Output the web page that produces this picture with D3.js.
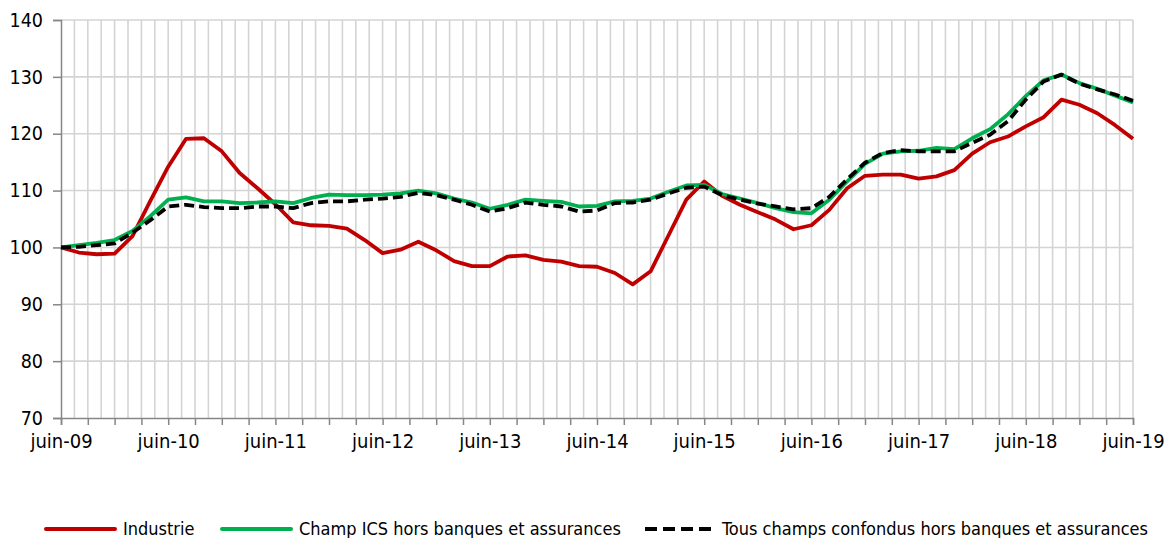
<!DOCTYPE html>
<html><head><meta charset="utf-8">
<script src="https://cdn.jsdelivr.net/npm/d3@7"></script>
<style>
html,body{margin:0;padding:0;background:#fff;}
svg text{font-family:"DejaVu Sans Condensed","DejaVu Sans",sans-serif;font-stretch:condensed;fill:#000;}
</style></head>
<body><svg id="chart" width="1169" height="538"></svg>
<script>
const xLabels = ["juin-09","juin-10","juin-11","juin-12","juin-13","juin-14","juin-15","juin-16","juin-17","juin-18","juin-19"];
const yTicks = [70,80,90,100,110,120,130,140];
const seriesNames = ["Industrie","Champ ICS hors banques et assurances","Tous champs confondus hors banques et assurances"];
const industrie = [100,99.1,98.8,98.9,102.0,108.2,114.2,119.1,119.2,116.9,113.1,110.4,107.6,104.4,103.9,103.8,103.3,101.3,99.0,99.6,101.0,99.5,97.6,96.7,96.7,98.4,98.6,97.8,97.5,96.7,96.6,95.5,93.5,95.8,102.1,108.4,111.6,109.1,107.5,106.2,104.9,103.2,103.9,106.6,110.4,112.6,112.8,112.8,112.1,112.5,113.6,116.5,118.5,119.5,121.3,122.9,126.0,125.1,123.6,121.5,119.1];
const champICS = [100,100.4,100.8,101.3,102.9,105.5,108.4,108.8,108.1,108.1,107.8,107.9,108.1,107.8,108.7,109.3,109.2,109.2,109.3,109.5,110.0,109.5,108.6,107.9,106.8,107.5,108.4,108.2,108.0,107.2,107.3,108.1,108.2,108.6,109.8,110.9,111.0,109.4,108.6,107.8,106.9,106.2,106.0,108.4,111.6,114.7,116.5,116.9,117.0,117.5,117.3,119.2,120.8,123.4,126.6,129.4,130.4,128.9,127.9,126.7,125.5];
const tousChamps = [100,100.1,100.4,100.7,102.6,104.8,107.2,107.5,107.1,106.9,106.9,107.2,107.2,106.9,107.8,108.1,108.1,108.4,108.6,108.9,109.6,109.2,108.4,107.5,106.3,106.9,107.9,107.5,107.2,106.3,106.5,107.8,107.9,108.4,109.5,110.5,110.7,109.2,108.4,107.7,107.2,106.7,106.9,108.9,112.0,114.9,116.6,117.1,116.9,116.9,116.9,118.4,119.8,122.2,126.0,129.2,130.4,128.8,127.8,126.9,125.8];

const svg = d3.select("#chart");
const L = 61, R = 1133, T = 20, B = 418;
const x = d3.scaleLinear().domain([0,120]).range([L,R]);
const y = d3.scaleLinear().domain([70,140]).range([B,T]);

const vg = d3.range(1.5,120.01,1.5);
svg.append("g").selectAll("line").data(vg).join("line")
  .attr("x1",d=>x(d)).attr("x2",d=>x(d)).attr("y1",T).attr("y2",B)
  .attr("stroke","#d4d4d4").attr("stroke-width",1.6);
svg.append("g").selectAll("line").data(yTicks.filter(v=>v>70)).join("line")
  .attr("x1",L).attr("x2",R).attr("y1",d=>y(d)).attr("y2",d=>y(d))
  .attr("stroke","#d4d4d4").attr("stroke-width",1.6);

const yAxis = d3.axisLeft(y).tickValues(yTicks).tickSize(8).tickPadding(10).tickFormat(d3.format("d"));
const gy = svg.append("g").attr("transform",`translate(${L},0)`).call(yAxis);
gy.select(".domain").attr("stroke","#868686").attr("stroke-width",1.5);
gy.selectAll(".tick line").attr("stroke","#868686").attr("stroke-width",1.5);
gy.selectAll(".tick text").style("font-size","19.5px");

const xAxis = d3.axisBottom(x).tickValues(d3.range(0,120.01,3)).tickSize(7).tickPadding(9)
  .tickFormat(d => (d % 12 === 0) ? xLabels[d/12] : "");
const gx = svg.append("g").attr("transform",`translate(0,${B})`).call(xAxis);
gx.select(".domain").attr("stroke","#868686").attr("stroke-width",1.5);
gx.selectAll(".tick line").attr("stroke","#868686").attr("stroke-width",1.5);
gx.selectAll(".tick text").style("font-size","20px");

const line = d3.line().x((d,i)=>x(i*2)).y(d=>y(d));
const styles = [
  {data:industrie,color:"#c00000",dash:null},
  {data:champICS,color:"#00b050",dash:null},
  {data:tousChamps,color:"#000000",dash:"10,5"}
];
styles.forEach(s=>{
  svg.append("path").datum(s.data).attr("d",line)
    .attr("fill","none").attr("stroke",s.color).attr("stroke-width",3.8)
    .attr("stroke-linejoin","round")
    .attr("stroke-dasharray",s.dash);
});

const legendX = [46,222,645];
const lg = svg.append("g");
seriesNames.forEach((n,i)=>{
  const g = lg.append("g").attr("transform",`translate(${legendX[i]},529)`);
  g.append("line").attr("x1",0).attr("x2",69).attr("y1",0).attr("y2",0)
    .attr("stroke",styles[i].color).attr("stroke-width",4)
    .attr("stroke-linecap", styles[i].dash ? "butt" : "round")
    .attr("stroke-dasharray", styles[i].dash ? "12,6" : null);
  g.append("text").attr("x",77).attr("y",6).style("font-size","18px").text(n);
});
</script></body></html>
